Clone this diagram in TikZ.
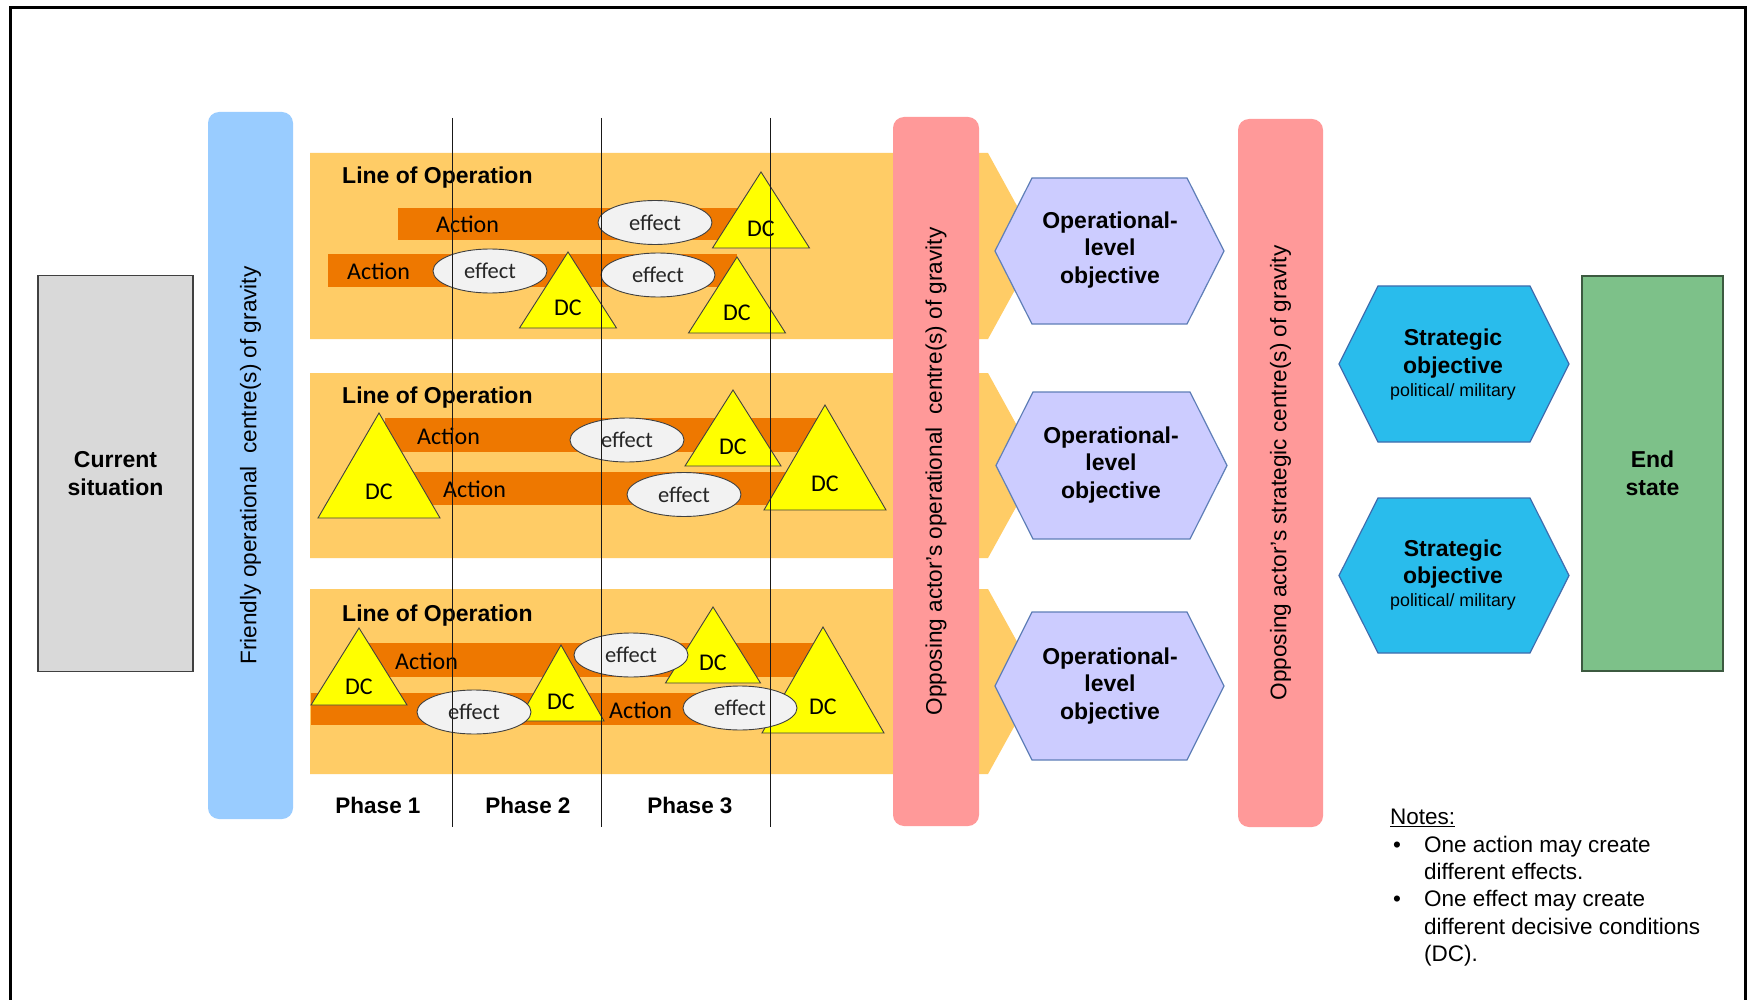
\documentclass[tikz,border=0pt]{standalone}
\usepackage{fontspec}
\setmainfont{Liberation Sans}
\newfontfamily\calib{Carlito}
\usetikzlibrary{shapes.geometric}

\definecolor{bandfill}{HTML}{FFCC66}
\definecolor{actfill}{HTML}{EE7800}
\definecolor{efffill}{HTML}{F2F2F2}
\definecolor{edgegray}{HTML}{404040}
\definecolor{dcfill}{HTML}{FFFF00}
\definecolor{redbar}{HTML}{FF9999}
\definecolor{bluebar}{HTML}{99CCFF}
\definecolor{opfill}{HTML}{CCCCFF}
\definecolor{opedge}{HTML}{5F7FB8}
\definecolor{stfill}{HTML}{29BCEC}
\definecolor{stedge}{HTML}{3F6DAE}
\definecolor{curfill}{HTML}{D9D9D9}
\definecolor{endfill}{HTML}{7DC189}
\definecolor{endedge}{HTML}{3C5A40}

% orange action bar
\newcommand\actbar[4]{\fill[actfill] (#1,#3) rectangle (#2,#4);}
% decisive-condition triangle: name, apex x, apex y, base y, half base, label y
\newcommand\dctri[6]{%
  \filldraw[dcfill, draw=edgegray, line width=0.9pt, line join=miter]
    (#2,#3) -- ({#2-#5},#4) -- ({#2+#5},#4) -- cycle;
  \node[dclabel] (#1) at (#2,#6) {DC};}
% flat-topped hexagon: style, left x, right x, top y, bottom y, inset
\newcommand\hexa[6]{%
  \filldraw[#1] (#2,{(#4+#5)/2}) -- ({#2+#6},#4) -- ({#3-#6},#4)
    -- (#3,{(#4+#5)/2}) -- ({#3-#6},#5) -- ({#2+#6},#5) -- cycle;}
% line-of-operation band with chevron end: top y, bottom y
\newcommand\band[2]{%
  \fill[bandfill] (310,#1) -- (988,#1) -- (1039,{(#1+#2)/2}) -- (988,#2) -- (310,#2) -- cycle;}

\begin{document}
\begin{tikzpicture}[x=1pt,y=-1pt,
  effect/.style={ellipse, fill=efffill, draw=edgegray, line width=0.9pt,
    minimum width=114, minimum height=44, inner sep=0,
    font=\calib\fontsize{22.5}{26}\selectfont, text=black!85},
  dclabel/.style={inner sep=0, font=\calib\fontsize{24}{28}\selectfont},
  actlabel/.style={anchor=west, inner sep=0, font=\calib\fontsize{24}{28}\selectfont},
  loolabel/.style={anchor=base west, inner sep=0, font=\bfseries\fontsize{23}{27}\selectfont},
  phaselabel/.style={inner sep=0, font=\bfseries\fontsize{22.5}{27}\selectfont},
  cogbar/.style={rotate=90, rounded corners=11, inner sep=0,
    font=\fontsize{22.6}{27}\selectfont},
  boldtext/.style={align=center, inner sep=0, font=\bfseries\fontsize{23}{27.5}\selectfont},
  opstyle/.style={fill=opfill, draw=opedge, line width=1.2pt},
  ststyle/.style={fill=stfill, draw=stedge, line width=1.2pt},
  phaseline/.style={draw=black!90, line width=0.9pt}
]
\useasboundingbox (0,0) rectangle (1753,1000);
\clip (0,0) rectangle (1753,1000);
\fill[white] (0,0) rectangle (1753,1000);

% outer frame
\draw[line width=3pt] (10,8) rectangle (1745,1030);

% lines of operation
\band{153}{339}
\band{373}{558}
\band{589}{774}

\actbar{398}{742}{208}{240}
\actbar{328}{737}{254}{287}
\actbar{385}{818}{418}{452}
\actbar{412}{795}{472}{505}
\actbar{367}{813}{643}{677}
\actbar{311}{813}{693}{725}

\node[loolabel] (loo1) at (342,184) {Line of Operation};
\node[loolabel] (loo2) at (342,403) {Line of Operation};
\node[loolabel] (loo3) at (342,621) {Line of Operation};

\node[actlabel] (a1a) at (436,224) {Action};
\node[actlabel] (a1b) at (347,271) {Action};
\node[actlabel] (a2a) at (417,436) {Action};
\node[actlabel] (a2b) at (443,489) {Action};
\node[actlabel] (a3a) at (395,661) {Action};
\node[actlabel] (a3b) at (609,710) {Action};

% decisive conditions
\dctri{dc1a}{761}{172}{248}{48.5}{229}
\dctri{dc1b}{568}{252}{328}{48.5}{308}
\dctri{dc1c}{737}{257}{333}{48.5}{313}
\dctri{dc2a}{733}{390}{466}{48}{447}
\dctri{dc2l}{379}{413}{518}{61}{492}
\dctri{dc2r}{825}{405}{510}{61}{484}
\dctri{dc3l}{359}{628}{705}{48}{687}
\dctri{dc3m}{561}{645}{721}{43}{702}
\dctri{dc3a}{713}{607}{683}{47.5}{663}
\dctri{dc3r}{823}{627}{733}{61}{707}

% effects
\node[effect] (e1a) at (655,222.5) {effect};
\node[effect] (e1b) at (490,271) {effect};
\node[effect] (e1c) at (658,275) {effect};
\node[effect] (e2a) at (627,440) {effect};
\node[effect] (e2b) at (684,494.5) {effect};
\node[effect] (e3a) at (631,655) {effect};
\node[effect] (e3b) at (474,712) {effect};
\node[effect] (e3c) at (740,708) {effect};

% phase boundaries
\coordinate (p1t) at (452,118); \coordinate (p1b) at (452,827);
\coordinate (p2t) at (601,118); \coordinate (p2b) at (601,827);
\coordinate (p3t) at (770,118); \coordinate (p3b) at (770,827);
\draw[phaseline] (p1t) -- (p1b);
\draw[phaseline] (p2t) -- (p2b);
\draw[phaseline] (p3t) -- (p3b);

\node[phaselabel] (ph1) at (378,805) {Phase 1};
\node[phaselabel] (ph2) at (528,805) {Phase 2};
\node[phaselabel] (ph3) at (690,805) {Phase 3};

% centres of gravity
\node[cogbar, fill=bluebar, minimum width=707, minimum height=85] (fcog) at (250.5,465.5)
  {Friendly operational\ \ centre(s) of gravity};
\node[cogbar, fill=redbar, minimum width=709, minimum height=86] (ocog) at (936,471.5)
  {Opposing actor’s operational\ \ centre(s) of gravity};
\node[cogbar, fill=redbar, minimum width=708, minimum height=85] (scog) at (1280.5,473)
  {Opposing actor’s strategic centre(s) of gravity};

% operational-level objectives
\hexa{opstyle}{995}{1224}{178}{324}{37}
\hexa{opstyle}{996}{1227}{392}{539}{37}
\hexa{opstyle}{995}{1224}{612}{760}{37}
\node[boldtext] (olo1) at (1110,250) {Operational-\\level\\objective};
\node[boldtext] (olo2) at (1111,465) {Operational-\\level\\objective};
\node[boldtext] (olo3) at (1110,686) {Operational-\\level\\objective};

% strategic objectives
\hexa{ststyle}{1339}{1569}{286}{442}{39}
\hexa{ststyle}{1339}{1569}{498}{653}{39}
\node[boldtext] (so1) at (1453,353.5) {Strategic\\objective};
\node[inner sep=0, font=\fontsize{17.8}{21}\selectfont] (so1s) at (1453,392) {political/ military};
\node[boldtext] (so2) at (1453,564) {Strategic\\objective};
\node[inner sep=0, font=\fontsize{17.8}{21}\selectfont] (so2s) at (1453,602) {political/ military};

% start and end
\node[boldtext, fill=curfill, draw=edgegray, line width=1.3pt,
  minimum width=155, minimum height=396] (cur) at (115.5,473.5) {Current\\situation};
\node[boldtext, fill=endfill, draw=endedge, line width=1.3pt,
  minimum width=141, minimum height=395] (endst) at (1652.5,473.5) {End\\state};

% notes
\node[anchor=north west, align=left, inner sep=0,
  font=\fontsize{22.5}{27.4}\selectfont] (notes) at (1390,809)
  {\underline{Notes:}\\
   \hspace*{3pt}\makebox[31pt][l]{•}One action may create\\
   \hspace*{34pt}different effects.\\
   \hspace*{3pt}\makebox[31pt][l]{•}One effect may create\\
   \hspace*{34pt}different decisive conditions\\
   \hspace*{34pt}(DC).};
\end{tikzpicture}
\end{document}
